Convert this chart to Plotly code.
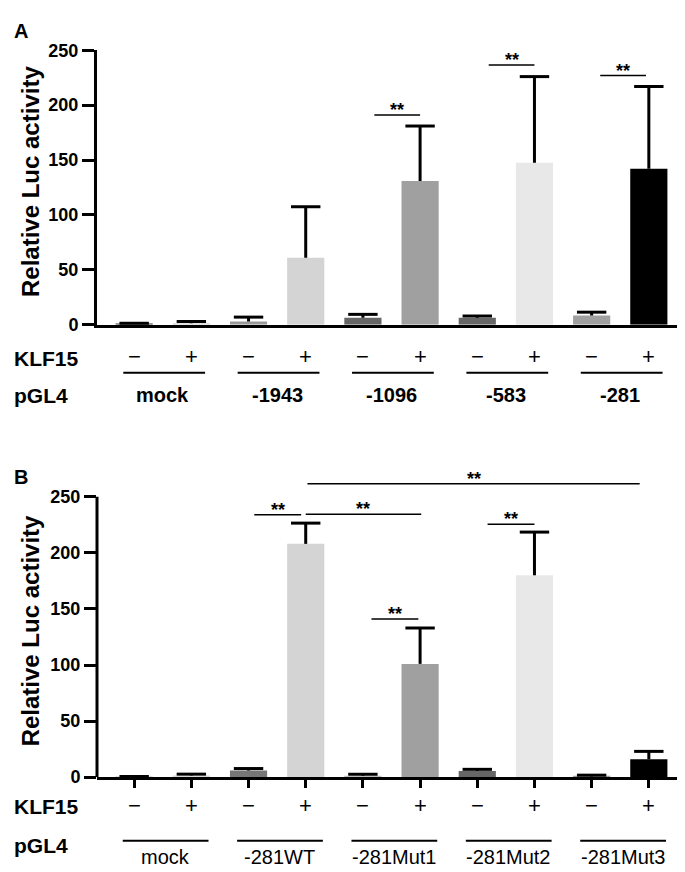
import plotly.graph_objects as go

# ---------------- data ----------------
klf15_signs = ["−", "+", "−", "+", "−", "+", "−", "+", "−", "+"]

groups_A = ["mock", "-1943", "-1096", "-583", "-281"]
values_A = [0.8, 1.5, 3.0, 61, 6.5, 131, 6.5, 147.5, 8.5, 142]
errors_A = [0.6, 1.5, 4.0, 46.5, 3.0, 50, 1.5, 78.5, 3.0, 75]
colors_A = ["#7a7a7a", "#d9d9d9", "#999999", "#d4d4d4", "#666666",
            "#a0a0a0", "#666666", "#e8e8e8", "#a0a0a0", "#000000"]

groups_B = ["mock", "-281WT", "-281Mut1", "-281Mut2", "-281Mut3"]
values_B = [0.3, 1.5, 6.0, 208, 1.2, 101, 5.5, 180, 0.6, 16]
errors_B = [0.3, 1.2, 1.7, 18.5, 1.4, 32, 1.5, 38.5, 1.2, 7]
colors_B = ["#7a7a7a", "#d9d9d9", "#777777", "#d4d4d4", "#bdbdbd",
            "#a0a0a0", "#666666", "#e8e8e8", "#a0a0a0", "#000000"]

# significance brackets (x from, x to, level)
sig_A_x0 = [4.2, 6.2, 8.15]
sig_A_x1 = [5.0, 7.0, 8.95]
sig_A_y = [191, 236.5, 227]

sig_B_x0 = [2.1, 3.0, 4.15, 6.18, 3.03]
sig_B_x1 = [2.92, 5.02, 4.97, 7.0, 8.84]
sig_B_y = [234, 234.5, 141, 225.5, 261.5]

y_ticks = [0, 50, 100, 150, 200, 250]

# ---------------- figure ----------------
FONT = "Liberation Sans, Arial, sans-serif"
W, H = 685, 872
pos = list(range(10))

fig = go.Figure()


def add_panel(values, errors, colors, xa, ya):
    fig.add_trace(go.Bar(
        x=pos, y=values, marker_color=colors, marker_line_width=0,
        error_y=dict(type="data", array=errors, arrayminus=[0] * 10,
                     symmetric=False, color="black", thickness=3, width=0),
        xaxis=xa, yaxis=ya, showlegend=False, hoverinfo="skip"))
    # error-bar caps (top only)
    fig.add_trace(go.Scatter(
        x=pos, y=[v + e for v, e in zip(values, errors)], mode="markers",
        marker=dict(symbol="line-ew", size=21,
                    line=dict(color="black", width=3)),
        xaxis=xa, yaxis=ya, showlegend=False, hoverinfo="skip",
        cliponaxis=False))


add_panel(values_A, errors_A, colors_A, "x", "y")
add_panel(values_B, errors_B, colors_B, "x2", "y2")

xdom = [89 / W, 682 / W]
xr = [-0.65, 9.72]

tickfont = dict(family=FONT, size=18, color="black", weight="bold")

fig.update_layout(
    width=W, height=H,
    margin=dict(l=0, r=0, t=0, b=0),
    paper_bgcolor="white", plot_bgcolor="white",
    bargap=0.35,
    xaxis=dict(domain=xdom, range=xr, anchor="y", showline=True, linewidth=3,
               linecolor="black", showticklabels=False, ticks="",
               showgrid=False, zeroline=False),
    yaxis=dict(domain=[1 - 314 / H, 1 - 33 / H], range=[0, 250], anchor="x",
               showline=True, linewidth=3, linecolor="black",
               tickvals=y_ticks, ticks="outside", ticklen=12, tickwidth=3,
               tickcolor="black", tickfont=tickfont, showgrid=False,
               zeroline=False),
    xaxis2=dict(domain=xdom, range=xr, anchor="y2", showline=True, linewidth=3,
                linecolor="black", showticklabels=False, tickvals=pos,
                ticks="outside", ticklen=8, tickwidth=3, tickcolor="black",
                showgrid=False, zeroline=False),
    yaxis2=dict(domain=[1 - 777 / H, 1 - 461.3 / H], range=[0, 275],
                anchor="x2", showline=False,
                tickvals=y_ticks, ticks="outside", ticklen=12, tickwidth=3,
                tickcolor="black", tickfont=tickfont, showgrid=False,
                zeroline=False),
)

shapes = []
annotations = []

# y-axis line for panel B (only up to 250)
shapes.append(dict(type="line", xref="x2 domain", yref="y2", x0=0, x1=0,
                   y0=0, y1=250, line=dict(color="black", width=3)))

# significance brackets
for x0, x1, yv in zip(sig_A_x0, sig_A_x1, sig_A_y):
    shapes.append(dict(type="line", xref="x", yref="y", x0=x0, x1=x1,
                       y0=yv, y1=yv, line=dict(color="black", width=1.5)))
    annotations.append(dict(xref="x", yref="y", x=(x0 + x1) / 2, y=yv,
                            text="**", showarrow=False, yanchor="middle",
                            yshift=5,
                            font=dict(family=FONT, size=18, color="black",
                                      weight="bold")))
for x0, x1, yv in zip(sig_B_x0, sig_B_x1, sig_B_y):
    shapes.append(dict(type="line", xref="x2", yref="y2", x0=x0, x1=x1,
                       y0=yv, y1=yv, line=dict(color="black", width=1.5)))
    annotations.append(dict(xref="x2", yref="y2", x=(x0 + x1) / 2, y=yv,
                            text="**", showarrow=False, yanchor="middle",
                            yshift=5,
                            font=dict(family=FONT, size=18, color="black",
                                      weight="bold")))

# KLF15 +/- rows
for xa, yp in (("x", 1 - 346 / H), ("x2", 1 - 806 / H)):
    for p, s in zip(pos, klf15_signs):
        annotations.append(dict(xref=xa, yref="paper", x=p, y=yp, text=s,
                                showarrow=False, yanchor="middle",
                                font=dict(family=FONT, size=22, color="black")))

# group underlines and labels
for k, g in enumerate(groups_A):
    shapes.append(dict(type="line", xref="x", yref="paper",
                       x0=2 * k - 0.19, x1=2 * k + 1.24,
                       y0=1 - 363 / H, y1=1 - 363 / H,
                       line=dict(color="black", width=2)))
    annotations.append(dict(xref="x", yref="paper", x=2 * k + 0.5,
                            y=1 - 386 / H, text=g, showarrow=False,
                            yanchor="middle",
                            font=dict(family=FONT, size=20, color="black",
                                      weight="bold")))
for k, g in enumerate(groups_B):
    shapes.append(dict(type="line", xref="x2", yref="paper",
                       x0=2 * k - 0.2, x1=2 * k + 1.3,
                       y0=1 - 842 / H, y1=1 - 842 / H,
                       line=dict(color="black", width=2)))
    annotations.append(dict(xref="x2", yref="paper", x=2 * k + 0.55,
                            y=1 - 859 / H, text=g, showarrow=False,
                            yanchor="middle",
                            font=dict(family=FONT, size=20, color="black")))

# row titles
for txt, yp in (("KLF15", 349), ("pGL4", 386), ("KLF15", 807), ("pGL4", 847)):
    annotations.append(dict(xref="paper", yref="paper", x=4 / W, y=1 - yp / H,
                            text=txt, showarrow=False, xanchor="left",
                            yanchor="middle",
                            font=dict(family=FONT, size=21, color="black",
                                      weight="bold")))

# y-axis titles
for ya in ("y", "y2"):
    annotations.append(dict(xref="paper", yref=ya, x=22 / W, y=130,
                            text="Relative Luc activity", textangle=-90,
                            showarrow=False, xanchor="center", yanchor="middle",
                            font=dict(family=FONT, size=24, color="black",
                                      weight="bold")))

# panel letters
for txt, yp in (("A", 13), ("B", 470)):
    annotations.append(dict(xref="paper", yref="paper", x=4 / W, y=1 - yp / H,
                            text=txt, showarrow=False, xanchor="left",
                            yanchor="middle",
                            font=dict(family=FONT, size=20, color="black",
                                      weight="bold")))

fig.update_layout(shapes=shapes, annotations=annotations)
fig.write_html("out.html")
